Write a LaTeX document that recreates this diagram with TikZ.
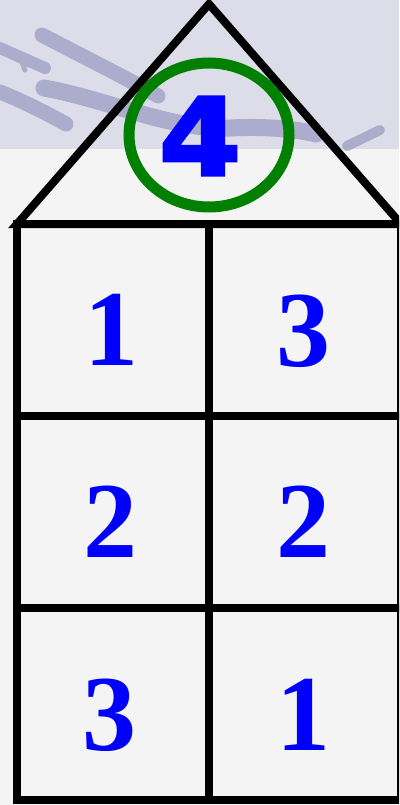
\documentclass[tikz,border=0pt]{standalone}
\usepackage{fontspec}
\usetikzlibrary{shapes.geometric}
\newfontfamily\serifnum{Liberation Serif}
\newfontfamily\sansnum{DejaVu Sans}[BoldFeatures={FakeBold=2.5}]
\definecolor{digitblue}{RGB}{0,0,255}
\definecolor{ringgreen}{RGB}{0,128,0}
\definecolor{skybg}{RGB}{221,221,233}
\definecolor{swoosh}{RGB}{172,172,204}
\definecolor{floorbg}{RGB}{244,244,244}
\begin{document}
\begin{tikzpicture}[x=1pt,y=-1pt,
  frame/.style={line width=8pt,black},
  digit/.style={inner sep=0pt,text=digitblue,font=\serifnum\bfseries\fontsize{108}{108}\selectfont},
  stroke/.style={swoosh,line cap=round}]
\useasboundingbox (0,0) rectangle (399,805);
\clip (0,0) rectangle (399,805);
% background
\fill[floorbg] (0,0) rectangle (399,805);
\fill[skybg] (0,0) rectangle (399,149);
% swooshes
\draw[stroke,line width=15pt] (42,35) .. controls (80,55) and (130,80) .. (158,96);
\draw[stroke,line width=17pt] (44,88) .. controls (110,100) and (170,130) .. (230,128)
      .. controls (270,126) and (300,130) .. (316,134);
\draw[stroke,line width=10pt] (347,146) -- (380,130);
\draw[stroke,line width=12pt] (0,48) -- (45,68);
\draw[stroke,line width=5pt] (22,62) -- (25,70);
\draw[stroke,line width=15pt] (0,92) .. controls (25,102) and (50,115) .. (66,124);
% roof
\draw[frame,line join=miter] (17,224) -- (209,4) -- (401,224) -- cycle;
% grid
\draw[frame] (17,224) rectangle (401,800);
\draw[frame] (209,224) -- (209,800);
\draw[frame] (17,416) -- (401,416);
\draw[frame] (17,608) -- (401,608);
% ring and top number
\node[draw=ringgreen,line width=11pt,ellipse,minimum width=160pt,minimum height=144pt,inner sep=0pt] (ring) at (209,135) {};
\node[inner sep=0pt,text=digitblue,font=\sansnum\bfseries\fontsize{108}{108}\selectfont,xscale=1.1] (top) at (200,136) {4};
% cell numbers
\node[digit] (a1) at (111,330) {1};
\node[digit] (b1) at (303,331) {3};
\node[digit] (a2) at (110,522) {2};
\node[digit] (b2) at (303,522) {2};
\node[digit] (a3) at (109,715) {3};
\node[digit] (b3) at (303,715) {1};
\end{tikzpicture}
\end{document}
